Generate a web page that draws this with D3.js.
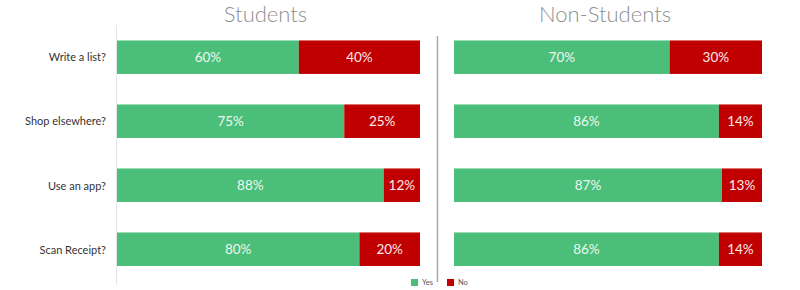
<!DOCTYPE html>
<html><head><meta charset="utf-8">
<script src="https://cdn.jsdelivr.net/npm/d3@7"></script>
<style>body{margin:0;background:#fff}svg{display:block;font-family:Lato,"Open Sans",sans-serif}</style>
</head><body><svg id="c" width="800" height="290"></svg>
<script>
const categories = ["Write a list?", "Shop elsewhere?", "Use an app?", "Scan Receipt?"];
const panels = ["Students", "Non-Students"];
const studentsYes = [60, 75, 88, 80];
const studentsNo = [40, 25, 12, 20];
const nonStudentsYes = [70, 86, 87, 86];
const nonStudentsNo = [30, 14, 13, 14];
const seriesNames = ["Yes", "No"];
const colors = {Yes: "#4BBF7A", No: "#C00000"};

const svg = d3.select("#c");
const y = d3.scaleBand().domain(categories).range([24, 282]).paddingInner(0.47).paddingOuter(0.25);

const panelDefs = [
  {name: panels[0], yes: studentsYes, no: studentsNo, x0: 117, x1: 420},
  {name: panels[1], yes: nonStudentsYes, no: nonStudentsNo, x0: 454, x1: 762}
];

// category labels
svg.append("g").selectAll("text").data(categories).join("text")
  .attr("x", 106).attr("y", d => y(d) + y.bandwidth() / 2)
  .attr("text-anchor", "end").attr("dominant-baseline", "central")
  .attr("font-size", 11).attr("fill", "#333").text(d => d);

// axis lines
svg.append("line").attr("x1", 116.5).attr("x2", 116.5).attr("y1", 25).attr("y2", 285)
  .attr("stroke", "#e6e6e6").attr("stroke-width", 1);
svg.append("line").attr("x1", 437.5).attr("x2", 437.5).attr("y1", 36).attr("y2", 282)
  .attr("stroke", "#aaa").attr("stroke-width", 1.5);

panelDefs.forEach(p => {
  const x = d3.scaleLinear().domain([0, 100]).range([p.x0, p.x1]);
  svg.append("text").attr("x", (p.x0 + p.x1) / 2 - 3).attr("y", 22)
    .attr("text-anchor", "middle").attr("font-size", 22).attr("font-weight", 300)
    .attr("fill", "#8f8f8f").text(p.name);
  const rows = categories.map((c, i) => ({c, yes: p.yes[i], no: p.no[i]}));
  const g = svg.append("g");
  const segs = [];
  rows.forEach(r => {
    segs.push({c: r.c, s: "Yes", a: 0, b: r.yes, v: r.yes});
    segs.push({c: r.c, s: "No", a: r.yes, b: r.yes + r.no, v: r.no});
  });
  g.selectAll("rect").data(segs).join("rect")
    .attr("x", d => x(d.a)).attr("width", d => x(d.b) - x(d.a))
    .attr("y", d => y(d.c)).attr("height", y.bandwidth())
    .attr("fill", d => colors[d.s]);
  g.selectAll("line.top").data(segs).join("line").attr("class", "top")
    .attr("x1", d => x(d.a)).attr("x2", d => x(d.b))
    .attr("y1", d => y(d.c) + 0.5).attr("y2", d => y(d.c) + 0.5)
    .attr("stroke", "#fff").attr("stroke-opacity", 0.45);
  g.selectAll("text").data(segs).join("text")
    .attr("x", d => (x(d.a) + x(d.b)) / 2).attr("y", d => y(d.c) + y.bandwidth() / 2)
    .attr("text-anchor", "middle").attr("dominant-baseline", "central")
    .attr("font-size", 13.5).attr("fill", d => d.s === "Yes" ? "#eef7f1" : "#fbeaea")
    .text(d => d.v + "%");
});

// legend
const lg = svg.append("g");
const lx = [411, 447];
seriesNames.forEach((s, i) => {
  lg.append("rect").attr("x", lx[i]).attr("y", 279).attr("width", 7).attr("height", 7).attr("fill", colors[s]);
  lg.append("text").attr("x", lx[i] + 11).attr("y", 282.5).attr("dominant-baseline", "central")
    .attr("font-size", 7.5).attr("fill", "#555").text(s);
});
</script></body></html>
